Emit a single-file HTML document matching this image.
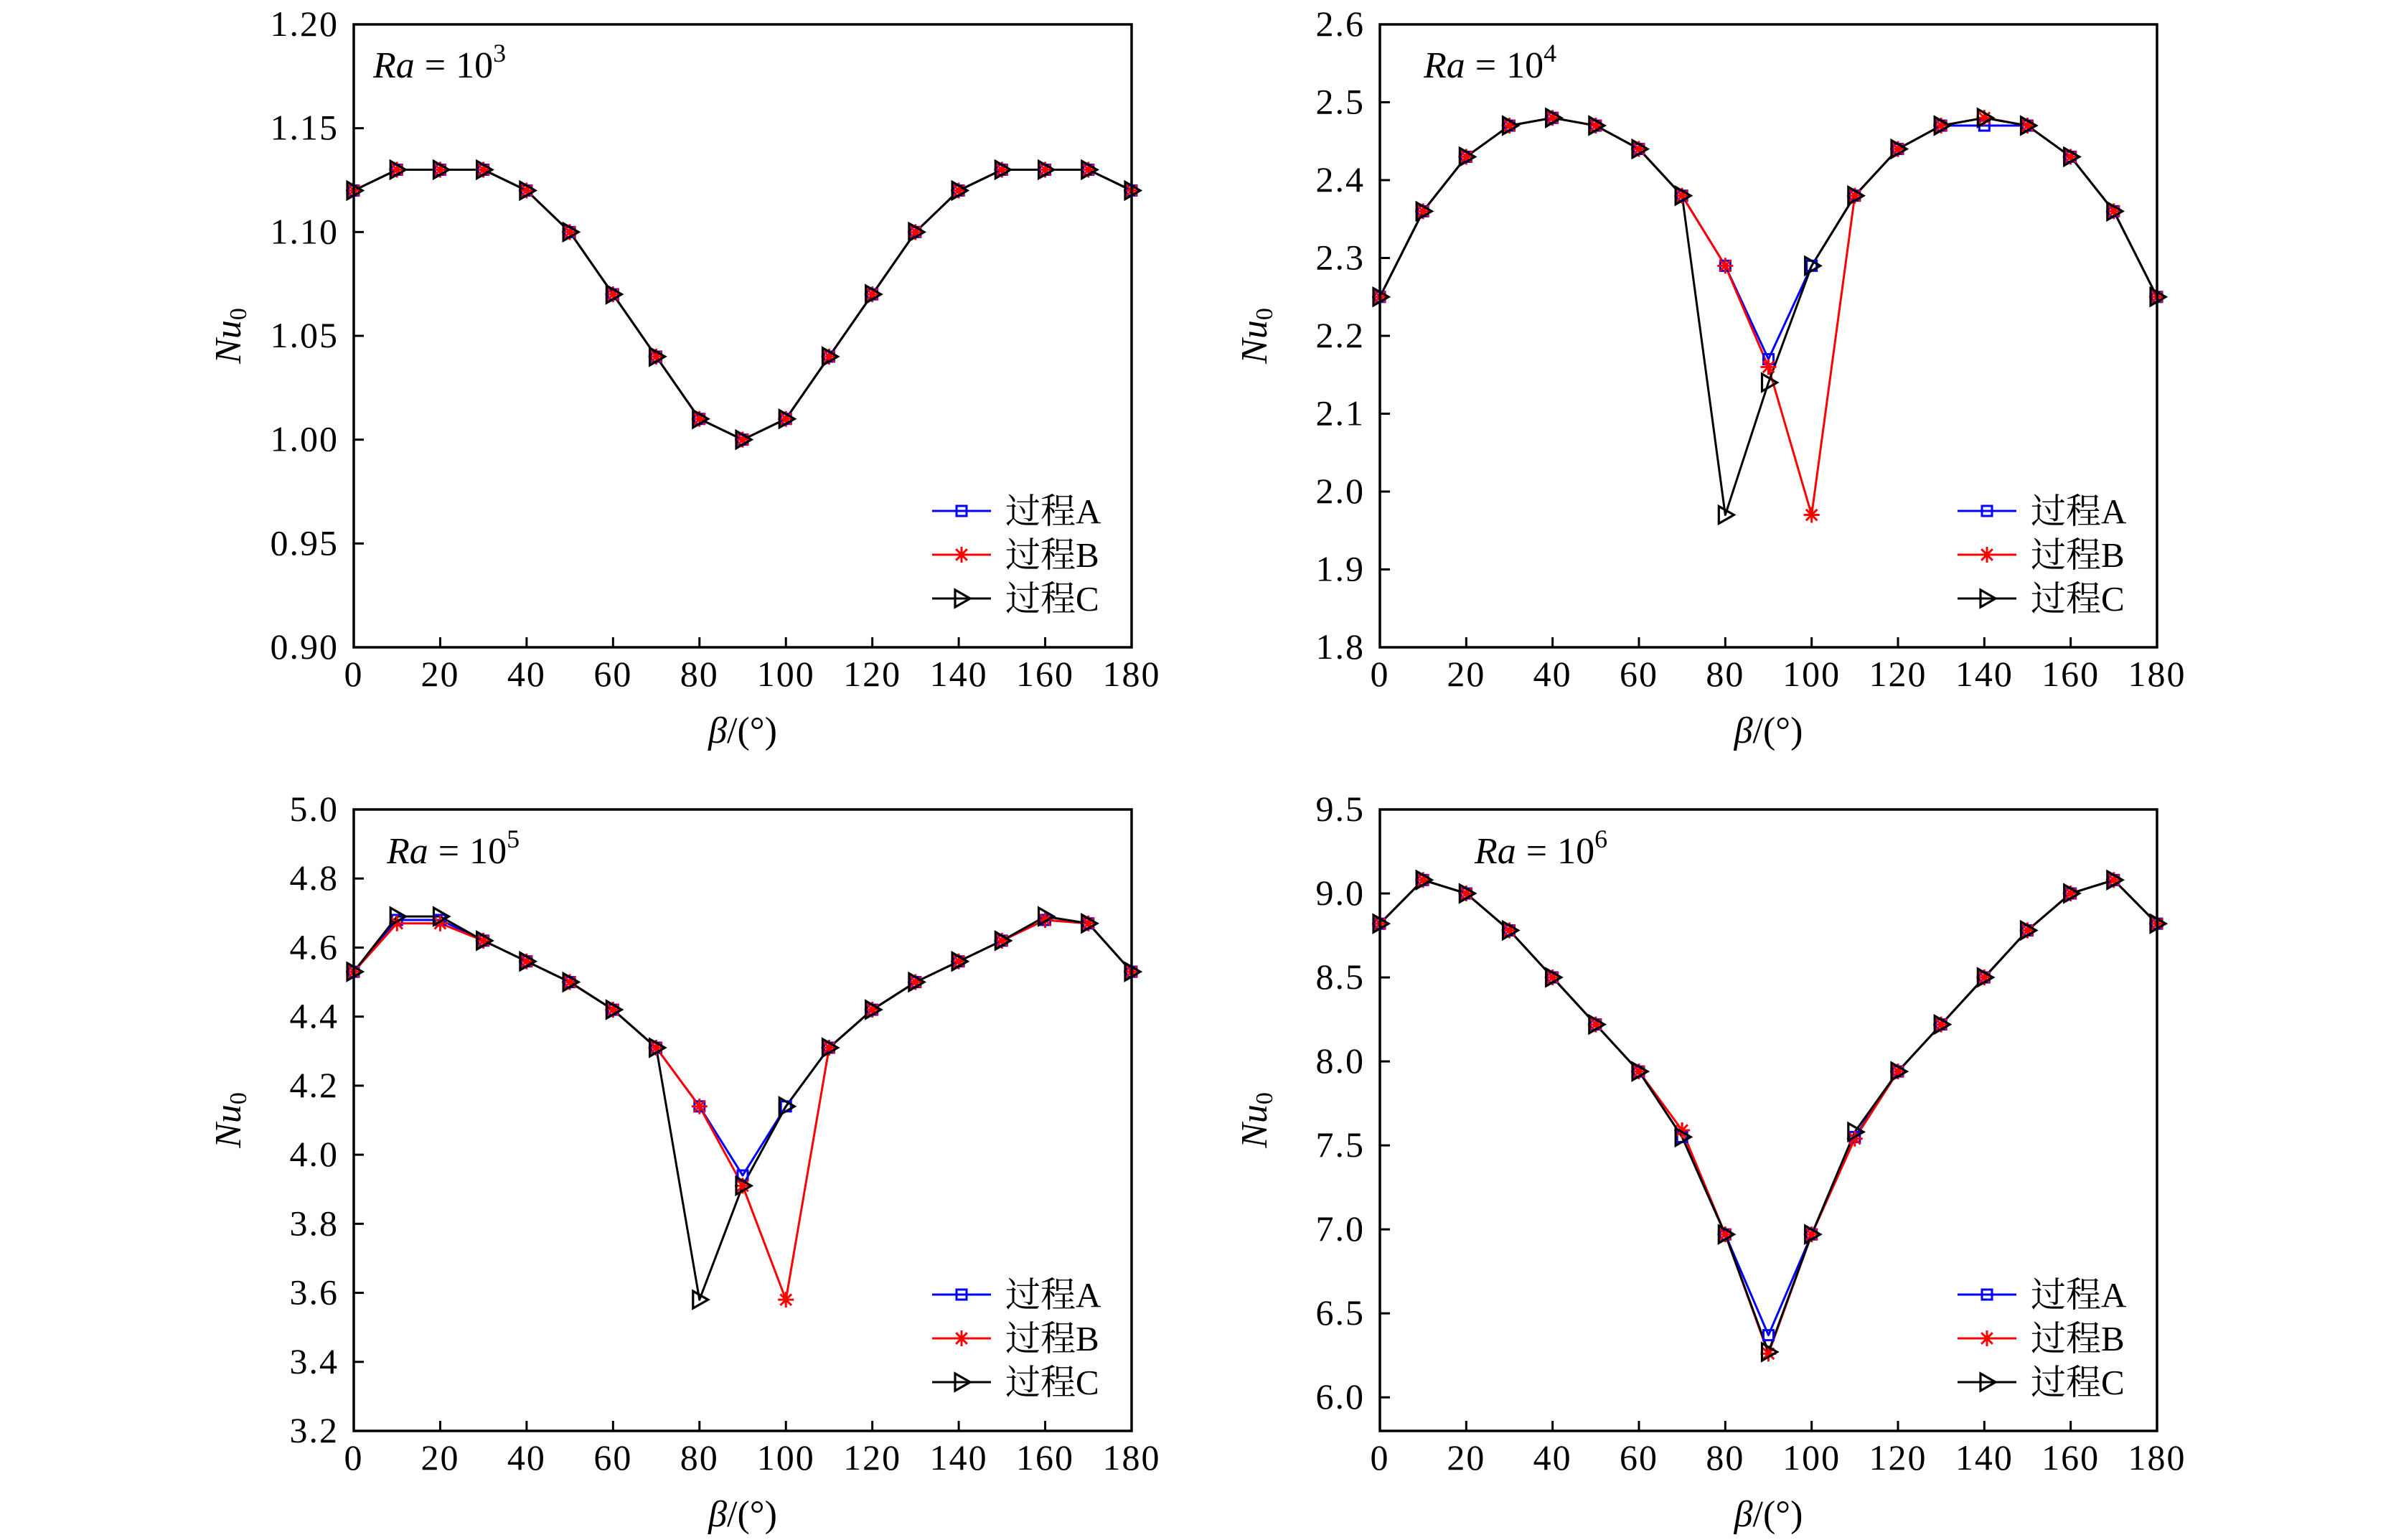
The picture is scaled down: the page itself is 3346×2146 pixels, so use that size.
<!DOCTYPE html>
<html><head><meta charset="utf-8"><style>
html,body{margin:0;padding:0;background:#fff;}
svg{display:block;}
text{font-family:"Liberation Serif","Noto Serif CJK SC",serif;fill:#000;}
</style></head><body>
<svg id="fig" width="3346" height="2146" viewBox="0 0 3346 2146" xmlns="http://www.w3.org/2000/svg"></svg>
<script>
const betas = [0,10,20,30,40,50,60,70,80,90,100,110,120,130,140,150,160,170,180];
const xTicks = [0,20,40,60,80,100,120,140,160,180];

const p1A = [1.12,1.13,1.13,1.13,1.12,1.10,1.07,1.04,1.01,1.00,1.01,1.04,1.07,1.10,1.12,1.13,1.13,1.13,1.12];
const p1B = [1.12,1.13,1.13,1.13,1.12,1.10,1.07,1.04,1.01,1.00,1.01,1.04,1.07,1.10,1.12,1.13,1.13,1.13,1.12];
const p1C = [1.12,1.13,1.13,1.13,1.12,1.10,1.07,1.04,1.01,1.00,1.01,1.04,1.07,1.10,1.12,1.13,1.13,1.13,1.12];
const p1Ticks = ["0.90","0.95","1.00","1.05","1.10","1.15","1.20"];

const p2A = [2.25,2.36,2.43,2.47,2.48,2.47,2.44,2.38,2.29,2.17,2.29,2.38,2.44,2.47,2.47,2.47,2.43,2.36,2.25];
const p2B = [2.25,2.36,2.43,2.47,2.48,2.47,2.44,2.38,2.29,2.16,1.97,2.38,2.44,2.47,2.48,2.47,2.43,2.36,2.25];
const p2C = [2.25,2.36,2.43,2.47,2.48,2.47,2.44,2.38,1.97,2.14,2.29,2.38,2.44,2.47,2.48,2.47,2.43,2.36,2.25];
const p2Ticks = ["1.8","1.9","2.0","2.1","2.2","2.3","2.4","2.5","2.6"];

const p3A = [4.53,4.68,4.68,4.62,4.56,4.50,4.42,4.31,4.14,3.94,4.14,4.31,4.42,4.50,4.56,4.62,4.68,4.67,4.53];
const p3B = [4.53,4.67,4.67,4.62,4.56,4.50,4.42,4.31,4.14,3.91,3.58,4.31,4.42,4.50,4.56,4.62,4.68,4.67,4.53];
const p3C = [4.53,4.69,4.69,4.62,4.56,4.50,4.42,4.31,3.58,3.91,4.14,4.31,4.42,4.50,4.56,4.62,4.69,4.67,4.53];
const p3Ticks = ["3.2","3.4","3.6","3.8","4.0","4.2","4.4","4.6","4.8","5.0"];

const p4A = [8.82,9.08,9.00,8.78,8.50,8.22,7.94,7.55,6.97,6.37,6.97,7.55,7.94,8.22,8.50,8.78,9.00,9.08,8.82];
const p4B = [8.82,9.08,9.00,8.78,8.50,8.22,7.94,7.59,6.97,6.26,6.97,7.54,7.94,8.22,8.50,8.78,9.00,9.08,8.82];
const p4C = [8.82,9.08,9.00,8.78,8.50,8.22,7.94,7.55,6.97,6.27,6.97,7.58,7.94,8.22,8.50,8.78,9.00,9.08,8.82];
const p4Ticks = ["6.0","6.5","7.0","7.5","8.0","8.5","9.0","9.5"];

const NS="http://www.w3.org/2000/svg";
const svg=document.getElementById('fig');
function mk(tag,attrs,parent){const e=document.createElementNS(NS,tag);for(const k in attrs)e.setAttribute(k,attrs[k]);(parent||svg).appendChild(e);return e;}

const panels=[
 {id:'ra3',L:493,T:34,R:1577,B:902,ymin:0.90,ymax:1.20,ticks:p1Ticks,A:p1A,Bs:p1B,C:p1C,exp:'3',raX:520,raY:108},
 {id:'ra4',L:1923,T:34,R:3006,B:902,ymin:1.8,ymax:2.6,ticks:p2Ticks,A:p2A,Bs:p2B,C:p2C,exp:'4',raX:1984,raY:108},
 {id:'ra5',L:493,T:1128,R:1577,B:1994,ymin:3.2,ymax:5.0,ticks:p3Ticks,A:p3A,Bs:p3B,C:p3C,exp:'5',raX:539,raY:1203},
 {id:'ra6',L:1923,T:1128,R:3006,B:1994,ymin:5.8,ymax:9.5,ticks:p4Ticks,A:p4A,Bs:p4B,C:p4C,exp:'6',raX:2055,raY:1203}
];

function sq(g,x,y,col){const e=mk('rect',{x:x-7,y:y-7,width:14,height:14,fill:'none',stroke:col,'stroke-width':3},g);

}
function star(g,x,y,col){const r=11;let d='';for(let i=0;i<4;i++){const a=i*Math.PI/4+Math.PI/2;d+=`M${x+r*Math.cos(a)},${y+r*Math.sin(a)}L${x-r*Math.cos(a)},${y-r*Math.sin(a)}`;}
const e=mk('path',{d:d,stroke:col,'stroke-width':3,fill:'none'},g);

}
function tri(g,x,y,col){const e=mk('path',{d:`M${x-9},${y-12}L${x+12},${y}L${x-9},${y+12}Z`,fill:'none',stroke:col,'stroke-width':3.2,'stroke-linejoin':'miter'},g);

}

panels.forEach(p=>{
 const g=mk('g',{});
 
 
 const sx=v=>p.L+(v-0)/(180-0)*(p.R-p.L);
 const sy=v=>p.B-(v-p.ymin)/(p.ymax-p.ymin)*(p.B-p.T);
 xTicks.forEach(t=>{
  const x=sx(t);
  if(t>0&&t<180){const tk=mk('line',{x1:x,y1:p.B,x2:x,y2:p.B-14,stroke:'#000','stroke-width':3},g);
  
  }
  const lb=mk('text',{x:x,y:p.B+54,'font-size':50,'letter-spacing':2,'text-anchor':'middle'},g);lb.textContent=t;
  
  
 });
 p.ticks.forEach(t=>{
  const y=sy(parseFloat(t));
  if(y>p.T+1&&y<p.B-1){const tk=mk('line',{x1:p.L,y1:y,x2:p.L+14,y2:y,stroke:'#000','stroke-width':3},g);
  
  }
  const lb=mk('text',{x:p.L-21,y:y+16,'font-size':50,'letter-spacing':2,'text-anchor':'end'},g);lb.textContent=t;
  
  
 });
 const series=[{v:p.A,col:'#0000ff',m:sq,n:'series-a'},{v:p.Bs,col:'#ff0000',m:star,n:'series-b'},{v:p.C,col:'#000',m:tri,n:'series-c'}];
 series.forEach(s=>{
  const pts=betas.map((b,i)=>sx(b)+','+sy(s.v[i])).join(' ');
  const pl=mk('polyline',{points:pts,fill:'none',stroke:s.col,'stroke-width':3,'stroke-linejoin':'round'},g);
  
  
 });
 series.forEach(s=>{betas.forEach((b,i)=>s.m(g,sx(b),sy(s.v[i]),s.col));});
 const fr=mk('rect',{x:p.L,y:p.T,width:p.R-p.L,height:p.B-p.T,fill:'none',stroke:'#000','stroke-width':3.5},g);
 
 
 const ra=mk('text',{x:p.raX,y:p.raY,'font-size':52},g);
 ra.innerHTML='<tspan font-style="italic">Ra</tspan><tspan dx="14">=</tspan><tspan dx="14">10</tspan><tspan font-size="36" dy="-22">'+p.exp+'</tspan>';
 
 
 const xt=mk('text',{x:(p.L+p.R)/2,y:p.B+133,'font-size':52,'text-anchor':'middle'},g);
 xt.innerHTML='<tspan font-style="italic">β</tspan>/(°)';
 
 
 const cy=(p.T+p.B)/2, tx=p.L-158;
 const yt=mk('text',{x:tx,y:cy,'font-size':52,'text-anchor':'middle',transform:`rotate(-90 ${tx} ${cy})`},g);
 yt.innerHTML='<tspan font-style="italic">Nu</tspan><tspan font-size="34" dy="8">0</tspan>';
 
 
 const lg=mk('g',{},g);
 
 
 const labels=['过程A','过程B','过程C'];
 const offs=[-190,-129,-68];
 series.forEach((s,i)=>{
  const y=p.B+offs[i];
  const ln=mk('line',{x1:p.R-278,y1:y,x2:p.R-196,y2:y,stroke:s.col,'stroke-width':3},lg);
  
  
  s.m(lg,p.R-237,y,s.col);
  const t=mk('text',{x:p.R-176,y:y+17,'font-size':49},lg);t.textContent=labels[i];
  
  
 });
});
</script>
</body></html>
